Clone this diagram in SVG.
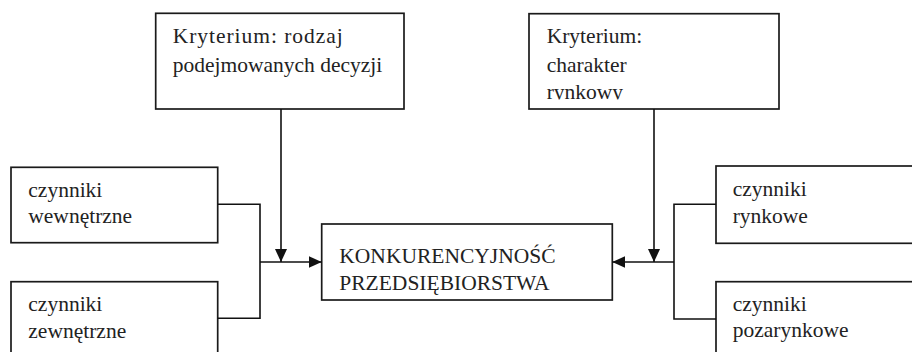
<svg xmlns="http://www.w3.org/2000/svg" width="912" height="352" viewBox="0 0 912 352">
  <defs>
    <marker id="arrow" markerUnits="userSpaceOnUse" markerWidth="14" markerHeight="12" refX="13" refY="6" orient="auto">
      <path d="M0,0 L13,6 L0,12 Z" fill="#111"/>
    </marker>
    <clipPath id="clipTR">
      <rect x="529" y="13" width="250" height="86.5"/>
    </clipPath>
  </defs>
  <style>
    .box { fill: #fff; stroke: #1a1a1a; stroke-width: 1.7; }
    .lbl { font-family: "Liberation Serif", "Times New Roman", serif; font-size: 21.5px; fill: #222; }
    .conn { fill: none; stroke: #111; stroke-width: 1.6; }
  </style>
  <rect width="912" height="352" fill="#fff"/>

  <g id="node-kryterium-rodzaj">
    <rect class="box" x="155.7" y="13.3" width="248.3" height="95.7"/>
    <text class="lbl" x="172.7" y="43.3" textLength="170" lengthAdjust="spacing">Kryterium: rodzaj</text>
    <text class="lbl" x="172.7" y="71.7">podejmowanych decyzji</text>
  </g>

  <g id="node-kryterium-charakter">
    <rect class="box" x="529" y="13.7" width="250" height="95.3"/>
    <g clip-path="url(#clipTR)">
      <text class="lbl" x="546.7" y="43.3">Kryterium:</text>
      <text class="lbl" x="546.7" y="71.7">charakter</text>
      <text class="lbl" x="546.7" y="99">rynkowy</text>
    </g>
  </g>

  <g id="node-wewnetrzne">
    <rect class="box" x="11" y="167.3" width="206.7" height="75.4"/>
    <text class="lbl" x="28.3" y="196.7">czynniki</text>
    <text class="lbl" x="28.3" y="223.3">wewnętrzne</text>
  </g>

  <g id="node-zewnetrzne">
    <rect class="box" x="11" y="281.7" width="206.7" height="80"/>
    <text class="lbl" x="28.3" y="310.7">czynniki</text>
    <text class="lbl" x="28.3" y="338.3">zewnętrzne</text>
  </g>

  <g id="node-konkurencyjnosc">
    <rect class="box" x="321.7" y="224" width="290.6" height="76"/>
    <text class="lbl" x="339.3" y="263.3">KONKURENCYJNOŚĆ</text>
    <text class="lbl" x="339.3" y="290">PRZEDSIĘBIORSTWA</text>
  </g>

  <g id="node-rynkowe">
    <rect class="box" x="716" y="166" width="210" height="77.3"/>
    <text class="lbl" x="732.7" y="196">czynniki</text>
    <text class="lbl" x="732.7" y="223.3">rynkowe</text>
  </g>

  <g id="node-pozarynkowe">
    <rect class="box" x="716" y="281.7" width="210" height="80"/>
    <text class="lbl" x="732.7" y="310.7">czynniki</text>
    <text class="lbl" x="732.7" y="336.7">pozarynkowe</text>
  </g>

  <g id="connectors">
    <polyline class="conn" points="217.7,204.3 260,204.3 260,318.3 217.7,318.3"/>
    <line class="conn" x1="260" y1="262" x2="321.7" y2="262" marker-end="url(#arrow)"/>
    <line class="conn" x1="281" y1="109" x2="281" y2="262" marker-end="url(#arrow)"/>
    <polyline class="conn" points="716,204.3 674,204.3 674,319 716,319"/>
    <line class="conn" x1="674" y1="262" x2="612.3" y2="262" marker-end="url(#arrow)"/>
    <line class="conn" x1="654" y1="109" x2="654" y2="262" marker-end="url(#arrow)"/>
  </g>
</svg>
